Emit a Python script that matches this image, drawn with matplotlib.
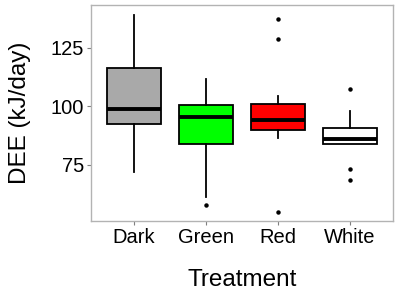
import matplotlib
matplotlib.use("Agg")
import matplotlib.pyplot as plt

plt.rcParams['font.family'] = ['Liberation Sans', 'DejaVu Sans']

categories = ["Dark", "Green", "Red", "White"]
colors = ["#A9A9A9", "#00FF00", "#FF0000", "#FFFFFF"]
whislo = [71.8, 61.0, 86.5, 83.9]
q1 = [92.3, 83.9, 89.6, 83.9]
med = [98.7, 95.2, 93.9, 85.9]
q3 = [116.4, 100.3, 101.1, 90.6]
whishi = [138.9, 111.7, 104.3, 97.9]
outliers = [[], [57.6], [137.3, 128.8, 54.7], [107.4, 73.1, 68.4]]
yticks = [75, 100, 125]

stats = []
for i, c in enumerate(categories):
    stats.append(dict(label=c, whislo=whislo[i], q1=q1[i], med=med[i],
                      q3=q3[i], whishi=whishi[i], fliers=outliers[i]))

fig = plt.figure(figsize=(3.97, 2.93), dpi=100)
ax = fig.add_axes([91/397, 1 - 221/293, (393-91)/397, (221-5)/293])

bp = ax.bxp(stats, positions=[1, 2, 3, 4], widths=0.75, patch_artist=True,
            showcaps=False,
            boxprops=dict(linewidth=1.3, edgecolor='black'),
            medianprops=dict(color='black', linewidth=2.8),
            whiskerprops=dict(color='black', linewidth=1.3),
            flierprops=dict(marker='o', markerfacecolor='black', markeredgecolor='black',
                            markersize=2.2, linestyle='none'))
for patch, col in zip(bp['boxes'], colors):
    patch.set_facecolor(col)

ax.set_xlim(0.4, 4.6)
ax.set_ylim(50.9, 143.2)
ax.set_yticks(yticks)
ax.set_xticks([1, 2, 3, 4])
ax.set_xticklabels(categories)
ax.tick_params(axis='both', colors='#7F7F7F', length=3, width=0.8, labelsize=14.5,
               labelcolor='black', pad=2)
for s in ax.spines.values():
    s.set_color('#B3B3B3')
    s.set_linewidth(1.0)
ax.set_xlabel("Treatment", fontsize=17.5, labelpad=16)
ax.set_ylabel("DEE (kJ/day)", fontsize=17.5, labelpad=14)

fig.savefig("out.png", dpi=100)
